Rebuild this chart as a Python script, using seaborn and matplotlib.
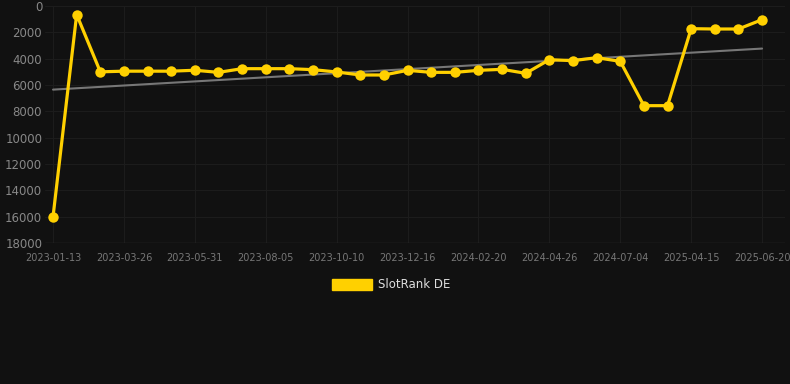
import numpy as np
import pandas as pd
import matplotlib
matplotlib.use("Agg")
import matplotlib.pyplot as plt
import matplotlib.patches as mpatches
import seaborn as sns

# ranks (lower = better, axis inverted)
dates = [
    "2023-01-13", "", "", "2023-03-26", "", "", "2023-05-31", "", "",
    "2023-08-05", "", "", "2023-10-10", "", "", "2023-12-16", "", "",
    "2024-02-20", "", "", "2024-04-26", "", "", "2024-07-04", "", "",
    "2025-04-15", "", "", "2025-06-20",
]
ranks = [
    16000, 650, 5000, 4950, 4950, 4950, 4880, 5040, 4760, 4760, 4760,
    4835, 5010, 5240, 5240, 4886, 5040, 5040, 4886, 4810, 5113, 4076,
    4152, 3925, 4203, 7570, 7570, 1722, 1747, 1747, 1038,
]
series_name = "SlotRank DE"

bg = "#111111"
gold = "#FFD000"

df = pd.DataFrame({"idx": np.arange(len(ranks)), "rank": ranks})

sns.set_style("dark")
fig = plt.figure(figsize=(7.9, 3.84), dpi=100, facecolor=bg)
ax = fig.add_axes([45 / 790, 1 - 243 / 384, 740 / 790, 237 / 384])
ax.set_facecolor(bg)

# trend line (least squares over the series)
slope, icpt = np.polyfit(df["idx"], df["rank"], 1)
xs = np.array([0, len(ranks) - 1])
ax.plot(xs, icpt + slope * xs, color="#777777", lw=1.5, zorder=2)

sns.lineplot(data=df, x="idx", y="rank", ax=ax, color=gold, lw=2.3,
             marker="o", markersize=7.5, markeredgewidth=0, zorder=3)

ax.set_ylim(18000, 0)
ax.set_yticks(np.arange(0, 18001, 2000))
ax.set_xlim(-0.34, 30.97)
tick_pos = [i for i, d in enumerate(dates) if d]
ax.set_xticks(tick_pos)
ax.set_xticklabels([dates[i] for i in tick_pos])
ax.set_xlabel("")
ax.set_ylabel("")

ax.grid(True, color="#1c1c1c", lw=0.8)
for s in ax.spines.values():
    s.set_visible(False)
ax.axhline(18000, color="#2e2e2e", lw=1, zorder=1)
ax.tick_params(axis="y", colors="#888888", labelsize=8.5, length=0, pad=2)
ax.tick_params(axis="x", colors="#777777", labelsize=7, length=4,
               width=0.8, color="#2a2a2a", pad=3)

handle = mpatches.Patch(color=gold, label=series_name)
fig.legend(handles=[handle], loc="center", bbox_to_anchor=(391 / 790, 1 - 285 / 384),
           frameon=False, fontsize=8.5, labelcolor="#dddddd",
           handlelength=3.4, handleheight=1.1, handletextpad=0.5)

fig.savefig("out.png", dpi=100, facecolor=bg)
